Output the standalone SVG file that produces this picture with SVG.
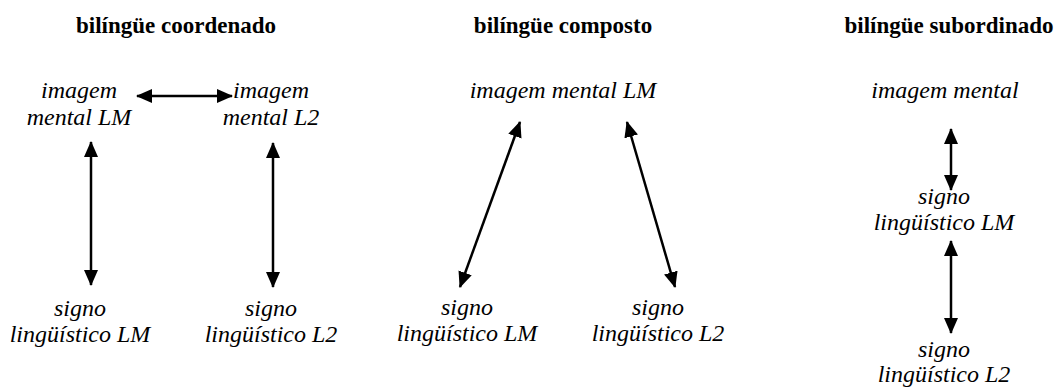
<svg xmlns="http://www.w3.org/2000/svg" width="1056" height="390" viewBox="0 0 1056 390">
<style>
.t{font-family:"Liberation Serif","Times New Roman",serif;font-size:23px;font-weight:bold;text-anchor:middle;fill:#000}
.n{font-family:"Liberation Serif","Times New Roman",serif;font-size:24px;font-style:italic;text-anchor:middle;fill:#000}
.c{stroke:#000;stroke-width:2.5;fill:none;marker-start:url(#ah);marker-end:url(#ah)}
</style>
<defs>
<marker id="ah" markerUnits="userSpaceOnUse" markerWidth="17" markerHeight="15" refX="15" refY="7" orient="auto-start-reverse" viewBox="0 0 17 15">
<path d="M0,0 L16,7 L0,14 z" fill="#000"/>
</marker>
</defs>
<rect width="1056" height="390" fill="#fff"/>
<g id="titles">
<text class="t" x="176" y="33">bilíngüe coordenado</text>
<text class="t" x="563" y="33">bilíngüe composto</text>
<text class="t" x="949" y="33">bilíngüe subordinado</text>
</g>
<g id="coord-img-lm"><text class="n" x="79" y="98">imagem</text><text class="n" x="79" y="125">mental LM</text></g>
<g id="coord-img-l2"><text class="n" x="271" y="98">imagem</text><text class="n" x="271" y="125">mental L2</text></g>
<g id="coord-sig-lm"><text class="n" x="80" y="316">signo</text><text class="n" x="80" y="342">lingüístico LM</text></g>
<g id="coord-sig-l2"><text class="n" x="271" y="316">signo</text><text class="n" x="271" y="342">lingüístico L2</text></g>
<g id="comp-img"><text class="n" x="563" y="98">imagem mental LM</text></g>
<g id="comp-sig-lm"><text class="n" x="467" y="315">signo</text><text class="n" x="467" y="341">lingüístico LM</text></g>
<g id="comp-sig-l2"><text class="n" x="658" y="315">signo</text><text class="n" x="658" y="341">lingüístico L2</text></g>
<g id="sub-img"><text class="n" x="945" y="98">imagem mental</text></g>
<g id="sub-sig-lm"><text class="n" x="944" y="204">signo</text><text class="n" x="944" y="230">lingüístico LM</text></g>
<g id="sub-sig-l2"><text class="n" x="944" y="357">signo</text><text class="n" x="944" y="382">lingüístico L2</text></g>
<g id="connectors">
<line class="c" x1="137" y1="96" x2="232" y2="96"/>
<line class="c" x1="91" y1="142" x2="91" y2="285"/>
<line class="c" x1="273" y1="143" x2="273" y2="287"/>
<line class="c" x1="520" y1="122" x2="460" y2="287"/>
<line class="c" x1="627" y1="122" x2="675" y2="287"/>
<line class="c" x1="951" y1="129" x2="951" y2="190"/>
<line class="c" x1="951" y1="241" x2="951" y2="333"/>
</g>
</svg>
